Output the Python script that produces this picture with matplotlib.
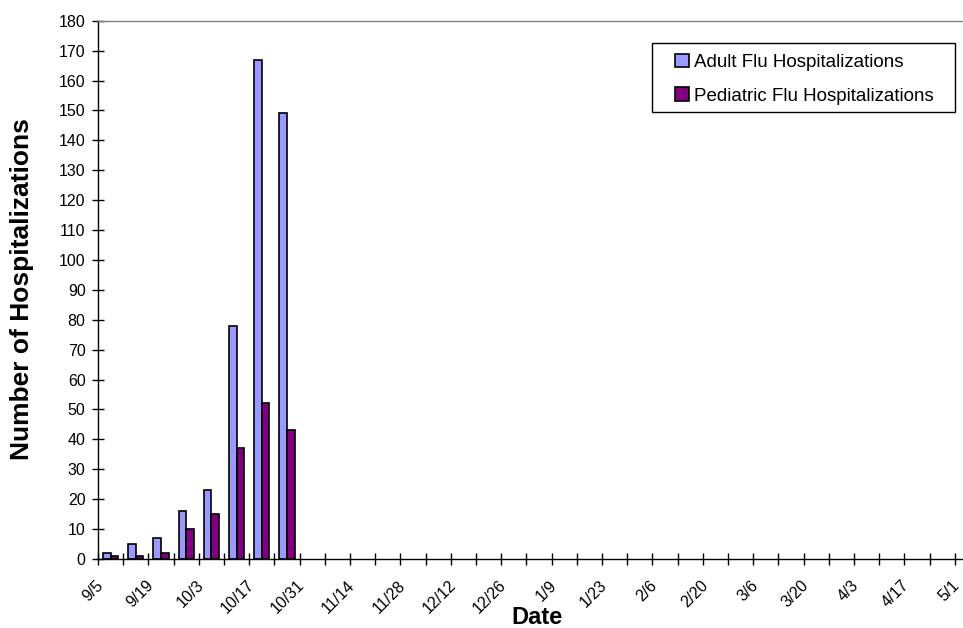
import matplotlib
matplotlib.use("Agg")
import matplotlib.pyplot as plt
from matplotlib.transforms import ScaledTranslation
from matplotlib.patches import Rectangle
import numpy as np

plt.rcParams['font.family'] = ['Liberation Sans', 'DejaVu Sans']

categories = ["9/5", "9/12", "9/19", "9/26", "10/3", "10/10", "10/17", "10/24",
              "10/31", "11/7", "11/14", "11/21", "11/28", "12/5", "12/12", "12/19",
              "12/26", "1/2", "1/9", "1/16", "1/23", "1/30", "2/6", "2/13", "2/20",
              "2/27", "3/6", "3/13", "3/20", "3/27", "4/3", "4/10", "4/17", "4/24", "5/1"]
adult = [2, 5, 7, 16, 23, 78, 167, 149]
pediatric = [1, 1, 2, 10, 15, 37, 52, 43]
y_ticks = list(range(0, 181, 10))
tick_labels = categories[::2]

W, H = 963, 628
fig = plt.figure(figsize=(W / 100, H / 100), dpi=100)
left_px, right_px, top_px, bottom_px = 98, 980, 20.7, 559
ax = fig.add_axes([left_px / W, 1 - bottom_px / H, (right_px - left_px) / W,
                   (bottom_px - top_px) / H])

n = len(categories)
bw = 0.3
xa = np.arange(len(adult)) + 0.5 - bw / 2
xp = np.arange(len(pediatric)) + 0.5 + bw / 2
ax.bar(xa, adult, width=bw, color="#9999FF", edgecolor="black", linewidth=1.2,
       label="Adult Flu Hospitalizations")
ax.bar(xp, pediatric, width=bw, color="#800080", edgecolor="black", linewidth=1.2,
       label="Pediatric Flu Hospitalizations")

ax.set_xlim(0, n)
ax.set_ylim(0, 180)
ax.set_yticks(y_ticks)
ax.set_yticklabels([str(v) for v in y_ticks], fontsize=11.5)
ax.tick_params(axis='y', direction='inout', length=8, width=1, pad=5)

ax.set_xticks(np.arange(0, n + 1))
ax.set_xticklabels([])
ax.tick_params(axis='x', which='major', direction='inout', length=8, width=1)
ax.set_xticks(np.arange(0, n, 2) + 0.5, minor=True)
ax.set_xticklabels(tick_labels, minor=True, fontsize=11.5, rotation=45,
                   ha='right', va='center', rotation_mode='anchor')
ax.tick_params(axis='x', which='minor', length=0, pad=0)
off = ScaledTranslation(-10 / 100, -24 / 100, fig.dpi_scale_trans)
for lab in ax.get_xticklabels(minor=True):
    lab.set_transform(lab.get_transform() + off)

for s in ['left', 'bottom']:
    ax.spines[s].set_color('black')
    ax.spines[s].set_linewidth(1.0)
ax.spines['right'].set_visible(False)
ax.spines['top'].set_color('#808080')
ax.spines['top'].set_linewidth(1.0)

# legend box
fig.patches.append(Rectangle((652 / W, 1 - 112 / H), (955 - 652) / W, (112 - 43) / H,
                             transform=fig.transFigure, facecolor='white',
                             edgecolor='black', linewidth=1.0, zorder=5))
leg = fig.legend(*ax.get_legend_handles_labels(), loc='upper left',
                 bbox_to_anchor=(675 / W, 1 - 54 / H), borderaxespad=0, borderpad=0,
                 fontsize=13.5, frameon=False,
                 handlelength=0.72, handleheight=0.72, handletextpad=0.3,
                 labelspacing=0.86)
leg.set_zorder(6)

fig.text(22 / W, 1 - 289 / H, "Number of Hospitalizations", rotation=90,
         ha='center', va='center', fontsize=19, fontweight='bold')
fig.text(537 / W, 1 - 617 / H, "Date", ha='center', va='center',
         fontsize=17, fontweight='bold')

fig.savefig("out.png", dpi=100)
